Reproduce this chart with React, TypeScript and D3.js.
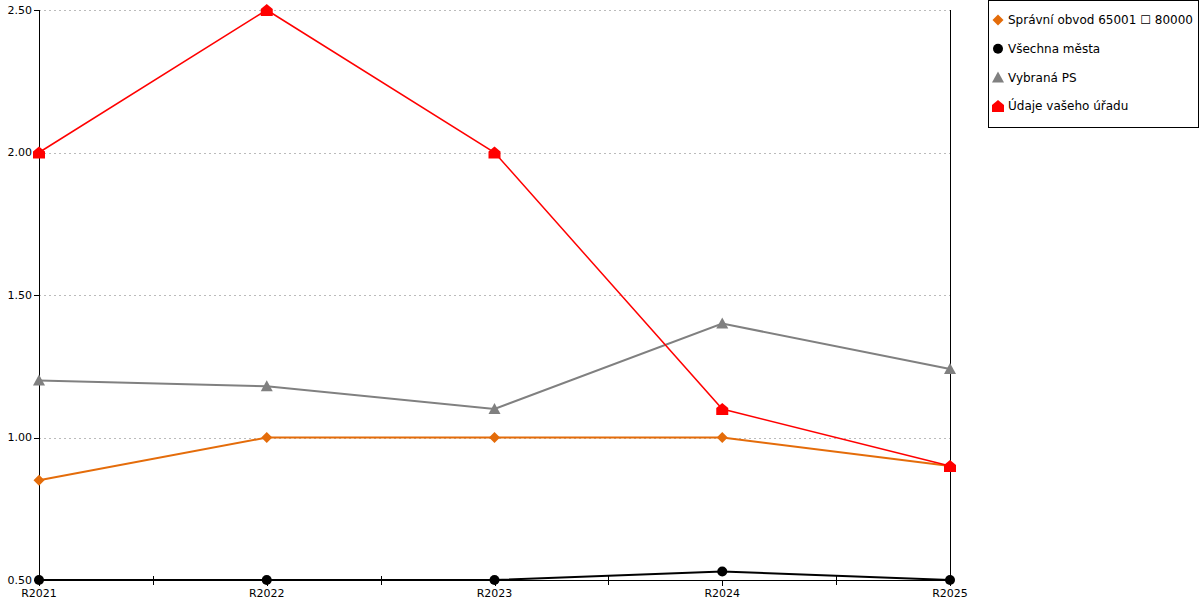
import React from "react";
import * as d3 from "d3";

const categories = ["R2021", "R2022", "R2023", "R2024", "R2025"];
const yTicks = [0.5, 1.0, 1.5, 2.0, 2.5];

const orangeValues = [0.85, 1.0, 1.0, 1.0, 0.9];
const blackValues = [0.5, 0.5, 0.5, 0.53, 0.5];
const grayValues = [1.2, 1.18, 1.1, 1.4, 1.24];
const redValues = [2.0, 2.5, 2.0, 1.1, 0.9];

const seriesNames = [
  "Správní obvod 65001 \u2610 80000",
  "Všechna města",
  "Vybraná PS",
  "Údaje vašeho úřadu",
];

type Series = { name: string; values: number[]; color: string; width: number; marker: string };

const series: Series[] = [
  { name: seriesNames[0], values: orangeValues, color: "#E46C0A", width: 2, marker: "diamond" },
  { name: seriesNames[1], values: blackValues, color: "#000000", width: 2, marker: "circle" },
  { name: seriesNames[2], values: grayValues, color: "#808080", width: 2, marker: "triangle" },
  { name: seriesNames[3], values: redValues, color: "#FF0000", width: 1.5, marker: "house" },
];

const FONT = "'DejaVu Sans', Verdana, sans-serif";

function Marker({ type, x, y, color }: { type: string; x: number; y: number; color: string }) {
  if (type === "circle") return <circle cx={x} cy={y} r={5} fill={color} />;
  if (type === "diamond")
    return <path d={`M${x},${y - 5.5}L${x + 5.5},${y}L${x},${y + 5.5}L${x - 5.5},${y}Z`} fill={color} />;
  if (type === "triangle")
    return <path d={`M${x},${y - 6}L${x + 6},${y + 5}L${x - 6},${y + 5}Z`} fill={color} />;
  // house
  return (
    <path
      d={`M${x},${y - 6}L${x + 6},${y - 1}L${x + 6},${y + 6}L${x - 6},${y + 6}L${x - 6},${y - 1}Z`}
      fill={color}
    />
  );
}

export default function App() {
  const left = 39;
  const right = 950;
  const top = 10;
  const bottom = 580;

  const x = d3.scalePoint<string>().domain(categories).range([left, right]);
  const y = d3.scaleLinear().domain([0.5, 2.5]).range([bottom, top]);
  const line = d3
    .line<number>()
    .x((_, i) => x(categories[i]) as number)
    .y((v) => y(v));

  const step = x.step();

  return (
    <div style={{ position: "absolute", left: 0, top: 0 }}>
      <svg width={1200} height={600} style={{ display: "block", fontFamily: FONT }}>
        <rect x={0} y={0} width={1200} height={600} fill="#fff" />
        {/* grid */}
        {yTicks
          .filter((t) => t > 0.5)
          .map((t) => (
            <line
              key={t}
              x1={left}
              x2={right}
              y1={Math.round(y(t)) + 0.5}
              y2={Math.round(y(t)) + 0.5}
              stroke="#bbbbbb"
              strokeDasharray="2,3"
            />
          ))}
        {/* axes */}
        <line x1={left + 0.5} x2={left + 0.5} y1={top} y2={bottom} stroke="#000" />
        <line x1={right + 0.5} x2={right + 0.5} y1={top} y2={bottom} stroke="#000" />
        <line x1={left} x2={right} y1={bottom + 0.5} y2={bottom + 0.5} stroke="#000" />
        {yTicks.map((t) => (
          <g key={t}>
            <line x1={left - 5} x2={left} y1={Math.round(y(t)) + 0.5} y2={Math.round(y(t)) + 0.5} stroke="#000" />
            <text x={left - 7} y={y(t)} dy="0.35em" textAnchor="end" fontSize={11} fill="#000">
              {t.toFixed(2)}
            </text>
          </g>
        ))}
        {categories.map((c) => (
          <g key={c}>
            <line
              x1={Math.round(x(c) as number) + 0.5}
              x2={Math.round(x(c) as number) + 0.5}
              y1={bottom}
              y2={bottom + 6}
              stroke="#000"
            />
            <text x={x(c) as number} y={bottom + 17} textAnchor="middle" fontSize={11} fill="#000">
              {c}
            </text>
          </g>
        ))}
        {categories.slice(0, -1).map((c) => {
          const mx = Math.round((x(c) as number) + step / 2) + 0.5;
          return <line key={c} x1={mx} x2={mx} y1={bottom - 4} y2={bottom + 5} stroke="#000" />;
        })}
        {/* series */}
        {series.map((s) => (
          <g key={s.name}>
            <path d={line(s.values) || ""} fill="none" stroke={s.color} strokeWidth={s.width} />
            {s.values.map((v, i) => (
              <Marker key={i} type={s.marker} x={x(categories[i]) as number} y={y(v)} color={s.color} />
            ))}
          </g>
        ))}
        {/* legend */}
        <rect x={988.5} y={0.5} width={210} height={127} fill="#fff" stroke="#000" />
        {series.map((s, i) => {
          const ly = 20 + i * 28.7;
          return (
            <g key={s.name}>
              <Marker type={s.marker} x={998} y={ly} color={s.color} />
              <text x={1008} y={ly} dy="0.35em" fontSize={12} fill="#000">
                {s.name}
              </text>
            </g>
          );
        })}
      </svg>
    </div>
  );
}
